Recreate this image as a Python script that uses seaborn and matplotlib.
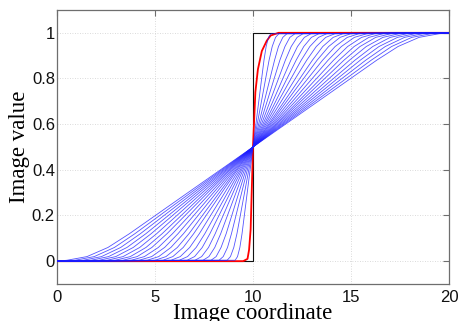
import matplotlib
matplotlib.use("Agg")
import matplotlib.pyplot as plt
import pandas as pd
import seaborn as sns

# levels where the lower half of every blue curve was read off; the upper half
# mirrors it through the centre point (10, 0.5)
levels = [0.004, 0.02, 0.06, 0.12]
center_x, center_y = 10.0, 0.5

# x where each blue curve crosses those levels, widest curve first
x_at_004 = [0.51, 0.92, 1.34, 1.74, 2.15, 2.56, 2.97, 3.37, 3.79, 4.19, 4.60,
            5.01, 5.41, 5.82, 6.24, 6.64, 7.04, 7.45, 7.86, 8.27, 8.68, 9.09]
x_at_02 = [1.53, 1.90, 2.27, 2.63, 3.00, 3.37, 3.74, 4.09, 4.46, 4.83, 5.19,
           5.56, 5.91, 6.29, 6.66, 7.02, 7.38, 7.75, 8.12, 8.48, 8.85, 9.21]
x_at_06 = [2.60, 2.93, 3.25, 3.57, 3.89, 4.22, 4.54, 4.84, 5.17, 5.49, 5.81,
           6.14, 6.44, 6.77, 7.10, 7.41, 7.73, 8.05, 8.37, 8.70, 9.02, 9.33]
x_at_12 = [3.69, 3.97, 4.25, 4.53, 4.80, 5.08, 5.36, 5.61, 5.89, 6.17, 6.45,
           6.73, 6.97, 7.26, 7.54, 7.80, 8.07, 8.35, 8.63, 8.90, 9.18, 9.44]

# red curve
red_x = [0, 9.5, 9.72, 9.8, 9.88, 10.0, 10.12, 10.25, 10.45, 10.7, 10.9, 11.3, 20]
red_y = [0, 0, 0.01, 0.05, 0.14, 0.5, 0.74, 0.84, 0.92, 0.965, 0.988, 1.0, 1]

# ideal step edge
step_x = [0, 10, 10, 20]
step_y = [0, 0, 1, 1]

x_range = (0, 20)

rows = []
for i, lower in enumerate(zip(x_at_004, x_at_02, x_at_06, x_at_12)):
    xs = [x_range[0]] + list(lower) + [center_x] + [2 * center_x - v for v in reversed(lower)] + [x_range[1]]
    ys = [0] + levels + [center_y] + [2 * center_y - v for v in reversed(levels)] + [1]
    for j, (x, y) in enumerate(zip(xs, ys)):
        rows.append({"curve": i, "order": j, "x": x, "y": y})
blue = pd.DataFrame(rows)

sns.set_theme(style="white")
plt.rcParams["font.family"] = ["Liberation Sans", "DejaVu Sans"]

fig = plt.figure(figsize=(4.59, 3.21), dpi=100)
ax = fig.add_axes([0.1242, 0.1153, 0.854, 0.8536])

ax.plot(step_x, step_y, color="#111111", lw=0.8, zorder=2)
sns.lineplot(x=red_x, y=red_y, sort=False, estimator=None, color="red", lw=1.3, ax=ax, zorder=3)
sns.lineplot(data=blue, x="x", y="y", units="curve", estimator=None, sort=False,
             color="#1a1aff", alpha=0.75, lw=0.6, ax=ax, zorder=4)

ax.set_xlim(0, 20)
ax.set_ylim(-0.1, 1.1)
ax.set_xticks([0, 5, 10, 15, 20])
ax.set_yticks([0, 0.2, 0.4, 0.6, 0.8, 1])
ax.set_yticklabels(["0", "0.2", "0.4", "0.6", "0.8", "1"])

ax.grid(True, color="#cfcfcf", lw=0.6, ls=(0, (1, 2)))
for s in ax.spines.values():
    s.set_color("#6e6e6e")
    s.set_linewidth(0.9)
ax.tick_params(direction="in", length=4, width=0.8, color="#6e6e6e",
               top=True, right=True, labelsize=12, labelcolor="#111111")
ax.tick_params(axis="y", pad=1.5)
ax.tick_params(axis="x", pad=4)

ax.set_xlabel("Image coordinate", family="Liberation Serif", fontsize=16.5, labelpad=-1, color="black")
ax.set_ylabel("Image value", family="Liberation Serif", fontsize=16.5, labelpad=1, color="black")

fig.savefig("out.png", dpi=100)
plt.close(fig)
